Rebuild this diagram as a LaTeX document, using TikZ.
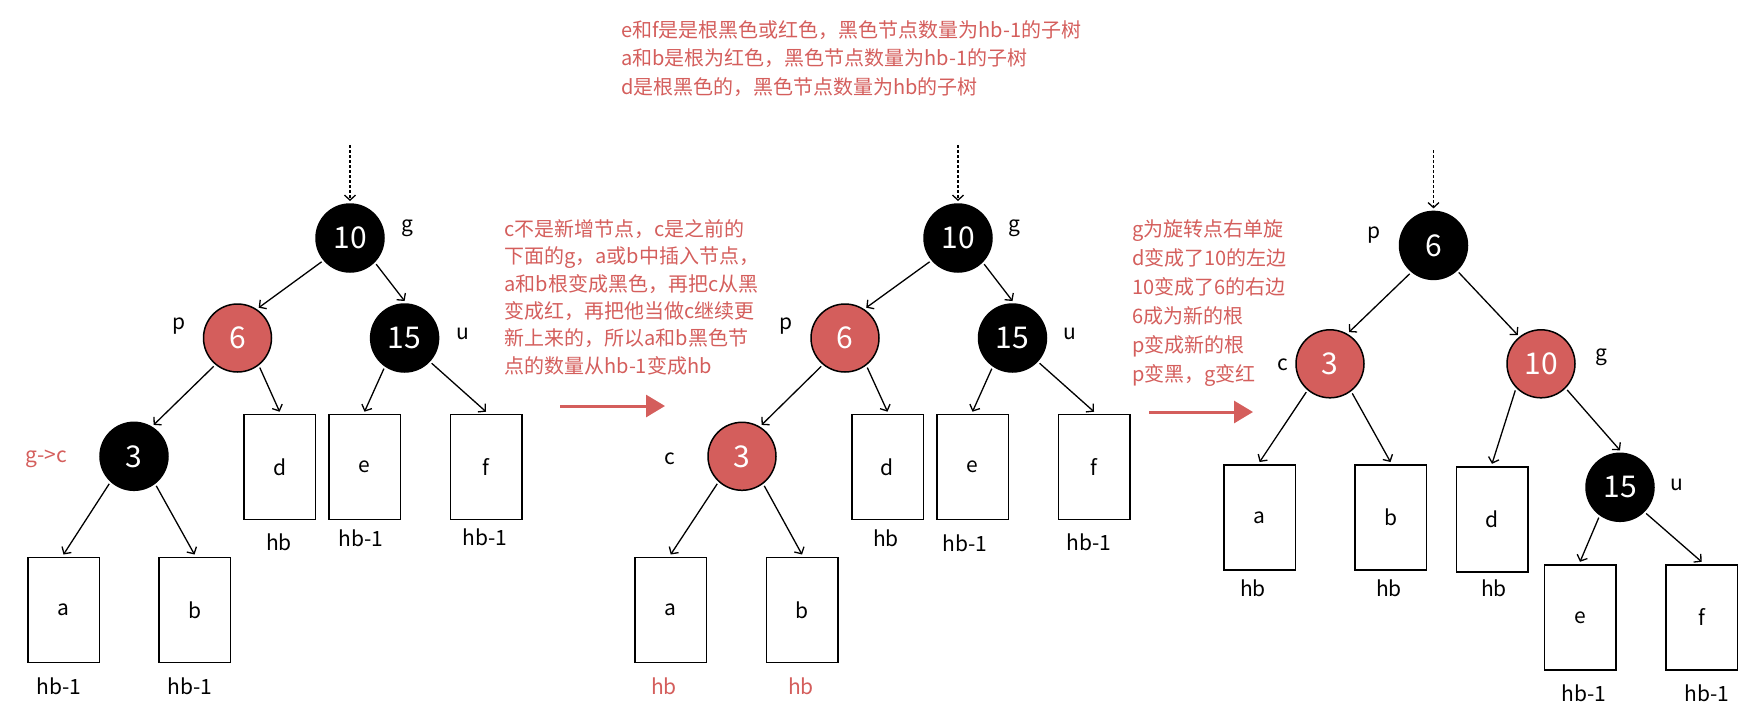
\documentclass[tikz,border=0pt]{standalone}
\usepackage{fontspec}
\setmainfont{Noto Sans CJK SC}
\usetikzlibrary{arrows.meta}
\definecolor{rbred}{RGB}{212,94,92}

\begin{document}
\begin{tikzpicture}[x=0.5pt, y=-0.5pt,
    blk/.style={circle, fill=black, draw=black, line width=0.75pt, minimum size=34pt, inner sep=0pt, outer sep=1.5pt, text=white, font=\fontsize{15}{18}\selectfont},
    rnode/.style={blk, fill=rbred},
    leaf/.style={rectangle, draw=black, line width=0.75pt, minimum width=35.75pt, minimum height=52.5pt, inner sep=0pt, outer sep=1.5pt, font=\fontsize{10.5}{12}\selectfont},
    lbl/.style={font=\fontsize{10.5}{12}\selectfont},
    note/.style={text=rbred, align=left, anchor=north west, inner sep=0pt},
    arr/.style={-{Straight Barb[length=2.5pt,width=5.5pt]}, line width=0.65pt},
    dasharr/.style={arr, dash pattern=on 1.5pt off 1pt},
    redarr/.style={-{Triangle[length=9.5pt,width=11pt]}, line width=1.5pt, rbred}
]
    \useasboundingbox (0,0) rectangle (1758,707);

    % Notes
    \node[note, font=\fontsize{10}{14.2}\selectfont] (top) at (620.6,20) {e和f是是根黑色或红色，黑色节点数量为hb-1的子树\\a和b是根为红色，黑色节点数量为hb-1的子树\\d是根黑色的，黑色节点数量为hb的子树};
    \node[note, font=\fontsize{10}{13.7}\selectfont] (mid) at (504,219) {c不是新增节点，c是之前的\\下面的g，a或b中插入节点，\\a和b根变成黑色，再把c从黑\\变成红，再把他当做c继续更\\新上来的，所以a和b黑色节\\点的数量从hb-1变成hb};
    \node[note, font=\fontsize{10}{14.5}\selectfont] (rot) at (1131.7,219) {g为旋转点右单旋\\d变成了10的左边\\10变成了6的右边\\6成为新的根\\p变成新的根\\p变黑，g变红};

    % Tree 1
    \coordinate (top1) at (350,145);
    \node[blk] (g1) at (350,238) {10};
    \node[rnode] (p1) at (237.5,338) {6};
    \node[blk] (u1) at (404.6,338) {15};
    \node[blk] (c1) at (134,456.3) {3};
    \node[leaf] (d1) at (279.6,467.2) {d};
    \node[leaf] (e1) at (364.5,467.2) {e};
    \node[leaf] (f1) at (486,467.2) {f};
    \node[leaf] (a1) at (63.5,610) {a};
    \node[leaf] (b1) at (194.5,610) {b};
    \node[lbl] (lg1) at (407,228) {g};
    \node[lbl] (lp1) at (179,326) {p};
    \node[lbl] (lu1) at (462.5,334) {u};
    \node[lbl, text=rbred] (lc1) at (46,459) {g->c};
    \node[lbl] (hd1) at (279,542) {hb};
    \node[lbl] (he1) at (361,538.5) {hb-1};
    \node[lbl] (hf1) at (485,537) {hb-1};
    \node[lbl] (ha1) at (59,686.5) {hb-1};
    \node[lbl] (hb1) at (190,686.5) {hb-1};

    \draw[dasharr] (top1) -- (g1.north);
    \draw[arr] (g1.220) -- (p1.55);
    \draw[arr] (g1.315) -- (u1.north);
    \draw[arr] (p1.230) -- (c1.58);
    \draw[arr] (p1.307) -- (d1.north);
    \draw[arr] (u1.236) -- (e1.north);
    \draw[arr] (u1.317) -- (f1.north);
    \draw[arr] (c1.228) -- (a1.north);
    \draw[arr] (c1.307) -- (b1.north);

    % Fleche 1
    \coordinate (s1) at (560,406);
    \coordinate (t1) at (665,406);
    \draw[redarr] (s1) -- (t1);

    % Tree 2
    \coordinate (top2) at (958,145);
    \node[blk] (g2) at (958,238) {10};
    \node[rnode] (p2) at (845,338) {6};
    \node[blk] (u2) at (1012.5,338) {15};
    \node[rnode] (c2) at (742,456.3) {3};
    \node[leaf] (d2) at (887.5,467.2) {d};
    \node[leaf] (e2) at (972.5,467.2) {e};
    \node[leaf] (f2) at (1094,467.2) {f};
    \node[leaf] (a2) at (670.7,610) {a};
    \node[leaf] (b2) at (802,610) {b};
    \node[lbl] (lg2) at (1014,228) {g};
    \node[lbl] (lp2) at (786,326) {p};
    \node[lbl] (lu2) at (1070,334) {u};
    \node[lbl] (lc2) at (670,459) {c};
    \node[lbl] (hd2) at (886,538.5) {hb};
    \node[lbl] (he2) at (965,543) {hb-1};
    \node[lbl] (hf2) at (1089,542) {hb-1};
    \node[lbl, text=rbred] (ha2) at (664,686.5) {hb};
    \node[lbl, text=rbred] (hb2) at (801,686.5) {hb};

    \draw[dasharr] (top2) -- (g2.north);
    \draw[arr] (g2.220) -- (p2.55);
    \draw[arr] (g2.315) -- (u2.north);
    \draw[arr] (p2.230) -- (c2.58);
    \draw[arr] (p2.307) -- (d2.north);
    \draw[arr] (u2.236) -- (e2.north);
    \draw[arr] (u2.317) -- (f2.north);
    \draw[arr] (c2.228) -- (a2.north);
    \draw[arr] (c2.307) -- (b2.north);

    % Fleche 2
    \coordinate (s2) at (1149,412);
    \coordinate (t2) at (1253,412);
    \draw[redarr] (s2) -- (t2);

    % Tree 3
    \coordinate (top3) at (1433.5,150.3);
    \node[blk] (p3) at (1433.5,245.4) {6};
    \node[rnode] (c3) at (1330,363.8) {3};
    \node[rnode] (g3) at (1541,363.8) {10};
    \node[blk] (u3) at (1620,487.3) {15};
    \node[leaf] (a3) at (1259.6,517.5) {a};
    \node[leaf] (b3) at (1390.5,517.5) {b};
    \node[leaf] (d3) at (1492,519.3) {d};
    \node[leaf] (e3) at (1580,617.3) {e};
    \node[leaf] (f3) at (1701.6,617.3) {f};
    \node[lbl] (lp3) at (1374,235) {p};
    \node[lbl] (lc3) at (1283,365) {c};
    \node[lbl] (lg3) at (1601,357) {g};
    \node[lbl] (lu3) at (1677,485) {u};
    \node[lbl] (ha3) at (1253,588.5) {hb};
    \node[lbl] (hb3) at (1389,588.5) {hb};
    \node[lbl] (hd3) at (1494,588.5) {hb};
    \node[lbl] (he3) at (1584,693) {hb-1};
    \node[lbl] (hf3) at (1707,693) {hb-1};

    \draw[dasharr] (top3) -- (p3.north);
    \draw[arr] (p3.230) -- (c3.59);
    \draw[arr] (p3.313) -- (g3.129);
    \draw[arr] (c3.230) -- (a3.north);
    \draw[arr] (c3.307) -- (b3.north);
    \draw[arr] (g3.226) -- (d3.north);
    \draw[arr] (g3.315) -- (u3.north);
    \draw[arr] (u3.235) -- (e3.north);
    \draw[arr] (u3.315) -- (f3.north);
\end{tikzpicture}
\end{document}
